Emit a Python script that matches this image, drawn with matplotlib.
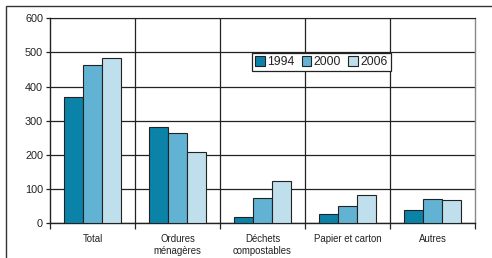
#!/usr/bin/env python3
"""Waste tonnage by category, 1994 / 2000 / 2006."""

import matplotlib

matplotlib.use("Agg")
import matplotlib.pyplot as plt
from matplotlib.patches import Rectangle
import numpy as np

CATEGORIES = ["Total", "Ordures\nménagères", "Déchets\ncompostables", "Papier et carton", "Autres"]
YEARS = ["1994", "2000", "2006"]
VALUES_1994 = [370, 283, 18, 27, 39]
VALUES_2000 = [462, 264, 75, 52, 70]
VALUES_2006 = [485, 210, 124, 83, 67]
COLORS = ["#0B82A8", "#62B3D3", "#BEDFEB"]


def main() -> None:
    plt.rcParams["font.family"] = ["Liberation Sans", "DejaVu Sans"]
    plt.rcParams["text.color"] = "#222222"
    fig = plt.figure(figsize=(4.92, 2.58), dpi=100)
    ax = fig.add_axes([50 / 492, 1 - 223.3 / 258, 425 / 492, 205 / 258])

    # outer frame (right and bottom edges fall outside the picture)
    fig.patches.append(
        Rectangle((6 / 492, -0.1), 1.2, 1 - 6 / 258 + 0.1, transform=fig.transFigure,
                  fill=False, edgecolor="#333333", linewidth=1.0)
    )

    x = np.arange(len(CATEGORIES))
    width = 0.224
    series = [VALUES_1994, VALUES_2000, VALUES_2006]
    for i, (vals, year, color) in enumerate(zip(series, YEARS, COLORS)):
        ax.bar(x + (i - 1) * width, vals, width, color=color, edgecolor="#222222",
               linewidth=0.8, label=year, zorder=3)

    ax.set_xlim(-0.5, len(CATEGORIES) - 0.5)
    ax.set_ylim(0, 600)
    ax.set_yticks(range(0, 601, 100))
    ax.yaxis.grid(True, color="#222222", linewidth=0.9, zorder=0)
    for b in np.arange(0.5, len(CATEGORIES) - 0.5, 1):
        ax.axvline(b, color="#222222", linewidth=0.9, zorder=1)

    ax.set_xticks(np.arange(-0.5, len(CATEGORIES), 1))
    ax.set_xticklabels([])
    ax.set_xticks(x, minor=True)
    ax.set_xticklabels(CATEGORIES, minor=True, fontsize=6.9, linespacing=1.25,
                       color="#222222")
    ax.tick_params(axis="x", which="minor", length=0, pad=7.5)
    ax.tick_params(axis="x", which="major", length=4, width=0.9, color="#222222")
    ax.tick_params(axis="y", length=3, width=0.9, labelsize=7.8, pad=2, color="#222222",
                   labelcolor="#222222")

    for side in ("left", "bottom"):
        ax.spines[side].set_color("#222222")
        ax.spines[side].set_linewidth(1.0)
    ax.spines["top"].set_color("#222222")
    ax.spines["right"].set_color("#888888")
    ax.spines["right"].set_linewidth(1.0)

    leg = ax.legend(loc="upper left", bbox_to_anchor=(201.7 / 425, 1 - 35 / 205), ncol=3,
                    fontsize=8.8, frameon=True, fancybox=False, handlelength=0.8,
                    handleheight=0.8, handletextpad=0.2, columnspacing=0.6,
                    borderpad=0.25, borderaxespad=0)
    leg.get_frame().set_edgecolor("#222222")
    leg.get_frame().set_linewidth(0.9)
    leg.get_frame().set_alpha(1)
    leg.set_zorder(5)

    fig.savefig("out.png", dpi=100)


if __name__ == "__main__":
    main()
